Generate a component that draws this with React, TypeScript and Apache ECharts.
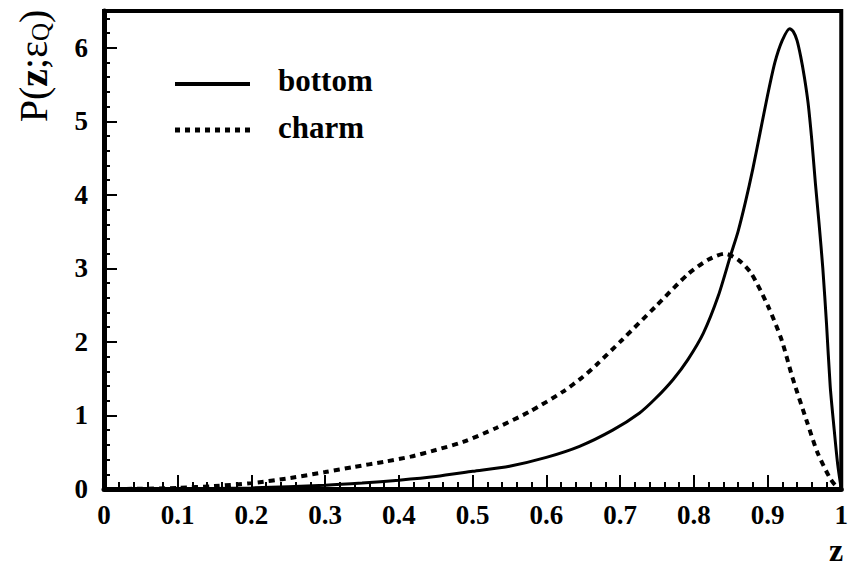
import React, { useEffect, useRef } from 'react';
import * as echarts from 'echarts';

// bottom-quark fragmentation function P(z; eps_b)
const bottomZ = [0, 0.1, 0.2, 0.3, 0.35, 0.4, 0.45, 0.5, 0.55, 0.6, 0.645, 0.69, 0.726, 0.748, 0.772, 0.792, 0.813, 0.833, 0.85, 0.86, 0.87, 0.88, 0.89, 0.9, 0.91, 0.92, 0.93, 0.935, 0.94, 0.945, 0.95, 0.955, 0.96, 0.965, 0.97, 0.975, 0.98, 0.985, 0.99, 0.995, 1.0];
const bottomP = [0, 0.002, 0.015, 0.05, 0.08, 0.12, 0.17, 0.24, 0.31, 0.43, 0.58, 0.8, 1.03, 1.23, 1.49, 1.76, 2.12, 2.62, 3.18, 3.5, 3.9, 4.35, 4.85, 5.35, 5.8, 6.1, 6.26, 6.22, 6.1, 5.88, 5.6, 5.25, 4.75, 4.15, 3.6, 3.0, 2.25, 1.4, 0.85, 0.35, 0];

// charm-quark fragmentation function P(z; eps_c)
const charmZ = [0, 0.05, 0.1, 0.15, 0.2, 0.253, 0.3, 0.339, 0.38, 0.416, 0.45, 0.487, 0.532, 0.577, 0.622, 0.649, 0.667, 0.703, 0.748, 0.793, 0.82, 0.842, 0.86, 0.878, 0.901, 0.919, 0.934, 0.954, 0.968, 0.984, 0.992, 1.0];
const charmP = [0, 0.003, 0.015, 0.04, 0.08, 0.15, 0.23, 0.3, 0.37, 0.44, 0.53, 0.64, 0.83, 1.05, 1.32, 1.52, 1.68, 2.03, 2.48, 2.93, 3.12, 3.2, 3.12, 2.93, 2.48, 2.03, 1.51, 0.9, 0.49, 0.16, 0.05, 0];

const seriesNames = ['bottom', 'charm'];
const xTickStep = 0.1;
const yTickStep = 1;
const yMinorStep = 0.2;
const yMax = 6.5;

const SERIF = "'Liberation Serif', 'Times New Roman', serif";

export default function App() {
  const ref = useRef<HTMLDivElement>(null);
  useEffect(() => {
    document.body.style.margin = '0';
    if (!ref.current) return;
    const chart = echarts.init(ref.current, undefined, { renderer: 'svg' });
    const labelStyle = { color: '#000', fontFamily: SERIF, fontWeight: 'bold' as const, fontSize: 27 };
    chart.setOption({
      animation: false,
      backgroundColor: '#fff',
      grid: { left: 104, right: 5, top: 11, bottom: 79, show: true, borderColor: '#000', borderWidth: 4, backgroundColor: 'transparent' },
      xAxis: {
        type: 'value', min: 0, max: 1, interval: xTickStep,
        axisLine: { show: true, onZero: false, lineStyle: { color: '#000', width: 5 } },
        axisTick: { show: true, inside: true, length: 14, lineStyle: { color: '#000', width: 2 } },
        minorTick: { show: true, splitNumber: 5, length: 7, lineStyle: { color: '#000', width: 2 } },
        splitLine: { show: false },
        axisLabel: { ...labelStyle, margin: 12 },
      },
      yAxis: [
        {
          type: 'value', min: 0, max: yMax, interval: yTickStep,
          axisLine: { show: true, onZero: false, lineStyle: { color: '#000', width: 5 } },
          axisTick: { show: true, inside: true, length: 13, lineStyle: { color: '#000', width: 2 } },
          splitLine: { show: false },
          axisLabel: { ...labelStyle, margin: 16, formatter: (v: number) => (Number.isInteger(v) ? String(v) : '') },
        },
        {
          type: 'value', min: 0, max: yMax, interval: yMinorStep, position: 'left',
          axisLine: { show: false },
          axisTick: { show: true, inside: true, length: 6, lineStyle: { color: '#000', width: 2 } },
          splitLine: { show: false },
          axisLabel: { show: false },
        },
      ],
      series: [
        {
          name: seriesNames[0], type: 'line', yAxisIndex: 0, showSymbol: false, symbol: 'none',
          smooth: 0.25,
          lineStyle: { color: '#000', width: 3 },
          data: bottomZ.map((z, i) => [z, bottomP[i]]),
        },
        {
          name: seriesNames[1], type: 'line', yAxisIndex: 0, showSymbol: false, symbol: 'none',
          smooth: 0.25,
          lineStyle: { color: '#000', width: 4, type: [6, 5] },
          data: charmZ.map((z, i) => [z, charmP[i]]),
        },
      ],
      graphic: [
        { type: 'line', shape: { x1: 175, y1: 84, x2: 250, y2: 84 }, style: { stroke: '#000', lineWidth: 4 } },
        { type: 'line', shape: { x1: 175, y1: 130, x2: 250, y2: 130 }, style: { stroke: '#000', lineWidth: 5, lineDash: [5, 5] } },
        { type: 'text', x: 278, y: 80, style: { text: seriesNames[0], fontFamily: SERIF, fontWeight: 'bold', fontSize: 31, fill: '#000', align: 'left', verticalAlign: 'middle' } },
        { type: 'text', x: 278, y: 127, style: { text: seriesNames[1], fontFamily: SERIF, fontWeight: 'bold', fontSize: 31, fill: '#000', align: 'left', verticalAlign: 'middle' } },
        { type: 'text', x: 836, y: 550, style: { text: 'z', fontFamily: SERIF, fontWeight: 'bold', fontSize: 32, fill: '#000', align: 'center', verticalAlign: 'middle' } },
        {
          type: 'text', x: 33, y: 66, rotation: Math.PI / 2,
          style: {
            text: '{a|P(}{b|z}{a|;ε}{q|Q}{a|)}',
            align: 'center', verticalAlign: 'middle', fill: '#000',
            rich: {
              a: { fontFamily: SERIF, fontSize: 40, fill: '#000' },
              b: { fontFamily: SERIF, fontSize: 40, fontWeight: 'bold', fill: '#000' },
              q: { fontFamily: SERIF, fontSize: 25, fill: '#000', verticalAlign: 'bottom' },
            },
          },
        },
      ],
    });
    return () => chart.dispose();
  }, []);
  return <div ref={ref} style={{ width: 851, height: 568 }} />;
}
